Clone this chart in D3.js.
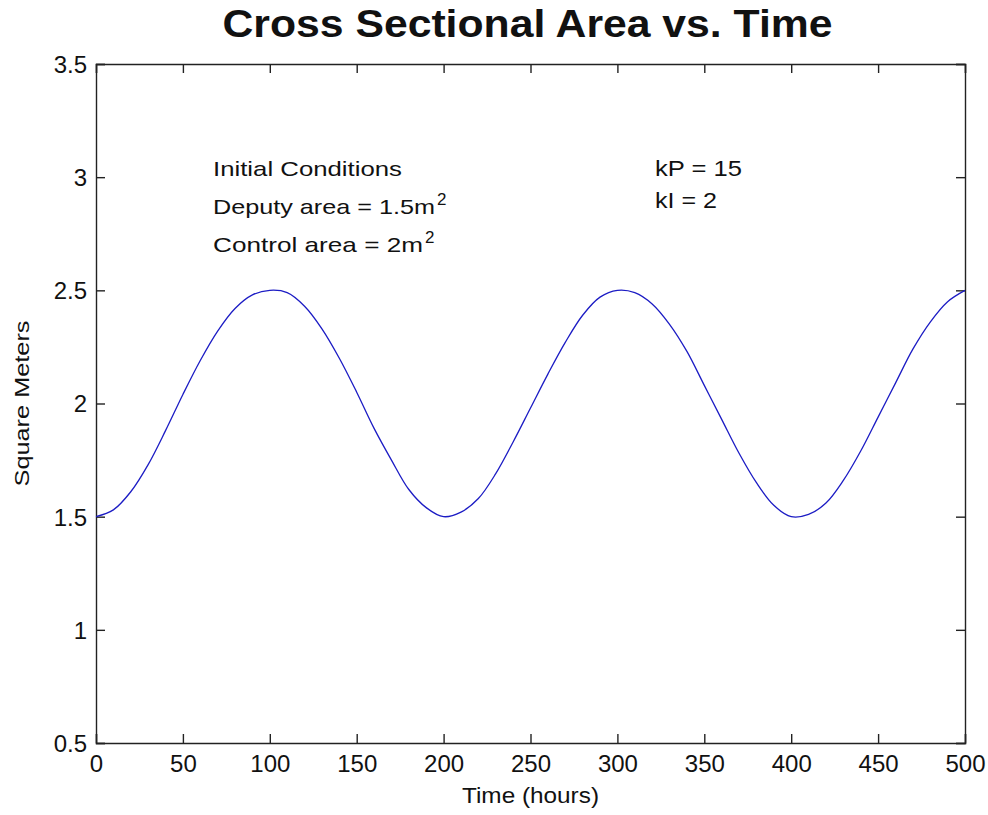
<!DOCTYPE html>
<html>
<head>
<meta charset="utf-8">
<script src="https://cdn.jsdelivr.net/npm/d3@7"></script>
<style>
  html, body { margin: 0; padding: 0; background: #fff; }
  svg { display: block; }
  text { font-family: "Liberation Sans", Arial, sans-serif; fill: #111; }
</style>
</head>
<body>
<svg id="chart" width="988" height="815"></svg>
<script>
// Simulated cross-sectional area (m^2) sampled every 10 hours
const hours = [0, 10, 20, 30, 40, 50, 60, 70, 80, 90, 100, 110, 120, 130, 140, 150, 160, 170, 180, 190,
  200, 210, 220, 230, 240, 250, 260, 270, 280, 290, 300, 310, 320, 330, 340, 350, 360, 370, 380, 390,
  400, 410, 420, 430, 440, 450, 460, 470, 480, 490, 500];
const area = [1.50, 1.53, 1.61, 1.73, 1.88, 2.04, 2.19, 2.32, 2.42, 2.48, 2.50, 2.49, 2.43, 2.33, 2.20, 2.05, 1.89, 1.75, 1.62, 1.54,
  1.50, 1.52, 1.58, 1.69, 1.83, 1.98, 2.13, 2.27, 2.39, 2.47, 2.50, 2.49, 2.44, 2.35, 2.23, 2.08, 1.93, 1.78, 1.65, 1.55,
  1.50, 1.51, 1.56, 1.66, 1.79, 1.94, 2.09, 2.24, 2.36, 2.45, 2.50];

const xTicks = [0, 50, 100, 150, 200, 250, 300, 350, 400, 450, 500];
const yTicks = [0.5, 1, 1.5, 2, 2.5, 3, 3.5];

const titleText = "Cross Sectional Area vs. Time";
const xLabel = "Time (hours)";
const yLabel = "Square Meters";
const noteLines = [
  { text: "Initial Conditions", sup: null },
  { text: "Deputy area = 1.5m", sup: "2" },
  { text: "Control area = 2m", sup: "2" }
];
const gainLines = ["kP = 15", "kI = 2"];

const svg = d3.select("#chart");
const plot = { left: 96, right: 965, top: 64, bottom: 743 };

const x = d3.scaleLinear().domain([0, 500]).range([plot.left, plot.right]);
const y = d3.scaleLinear().domain([0.5, 3.5]).range([plot.bottom, plot.top]);

const axisColor = "#222";
const tickLen = 9;

// Axes: ticks point inward, mirrored on top and right
const fmt = d3.format("");
const gB = svg.append("g").attr("transform", `translate(0,${plot.bottom})`)
  .call(d3.axisBottom(x).tickValues(xTicks).tickSize(-tickLen).tickPadding(12).tickFormat(fmt));
const gT = svg.append("g").attr("transform", `translate(0,${plot.top})`)
  .call(d3.axisTop(x).tickValues(xTicks).tickSize(-tickLen).tickFormat(""));
const gL = svg.append("g").attr("transform", `translate(${plot.left},0)`)
  .call(d3.axisLeft(y).tickValues(yTicks).tickSize(-tickLen).tickPadding(9).tickFormat(fmt));
const gR = svg.append("g").attr("transform", `translate(${plot.right},0)`)
  .call(d3.axisRight(y).tickValues(yTicks).tickSize(-tickLen).tickFormat(""));

[gB, gT, gL, gR].forEach(g => {
  g.select(".domain").attr("stroke", axisColor).attr("stroke-width", 1.4);
  g.selectAll(".tick line").attr("stroke", axisColor).attr("stroke-width", 1.4);
  g.selectAll(".tick text").attr("font-size", 24).attr("fill", "#222")
    .attr("font-family", "'Liberation Sans', Arial, sans-serif");
});
gB.selectAll(".tick text").attr("dy", "0.71em");
gL.selectAll(".tick text").attr("dy", "0.35em");

// Area curve
const line = d3.line()
  .x((d, i) => x(hours[i]))
  .y(d => y(d))
  .curve(d3.curveCatmullRom.alpha(0.5));
svg.append("path")
  .datum(area)
  .attr("fill", "none")
  .attr("stroke", "#1c1cc4")
  .attr("stroke-width", 1.3)
  .attr("d", line);

// Title
svg.append("text")
  .attr("x", (plot.left + plot.right) / 2 - 3)
  .attr("y", 37)
  .attr("text-anchor", "middle")
  .attr("font-size", 38)
  .attr("font-weight", "bold")
  .attr("fill", "#000")
  .attr("textLength", 610)
  .attr("lengthAdjust", "spacingAndGlyphs")
  .text(titleText);

// Axis labels
svg.append("text")
  .attr("x", (plot.left + plot.right) / 2)
  .attr("y", 803)
  .attr("text-anchor", "middle")
  .attr("font-size", 22)
  .attr("textLength", 137)
  .attr("lengthAdjust", "spacingAndGlyphs")
  .text(xLabel);

svg.append("text")
  .attr("transform", `translate(29,${(plot.top + plot.bottom) / 2}) rotate(-90)`)
  .attr("text-anchor", "middle")
  .attr("font-size", 21)
  .attr("textLength", 166)
  .attr("lengthAdjust", "spacingAndGlyphs")
  .text(yLabel);

// Initial condition notes
const noteWidths = [189, 222, 210];
const noteBase = [176, 214, 252];
noteLines.forEach((n, i) => {
  svg.append("text")
    .attr("x", 213)
    .attr("y", noteBase[i])
    .attr("font-size", 21)
    .attr("textLength", noteWidths[i])
    .attr("lengthAdjust", "spacingAndGlyphs")
    .text(n.text);
  if (n.sup) {
    svg.append("text")
      .attr("x", 213 + noteWidths[i] + 2)
      .attr("y", noteBase[i] - 9)
      .attr("font-size", 17)
      .text(n.sup);
  }
});

// Controller gains
const gainWidths = [87, 62];
const gainBase = [176, 208];
gainLines.forEach((g, i) => {
  svg.append("text")
    .attr("x", 655)
    .attr("y", gainBase[i])
    .attr("font-size", 22)
    .attr("textLength", gainWidths[i])
    .attr("lengthAdjust", "spacingAndGlyphs")
    .text(g);
});
</script>
</body>
</html>
